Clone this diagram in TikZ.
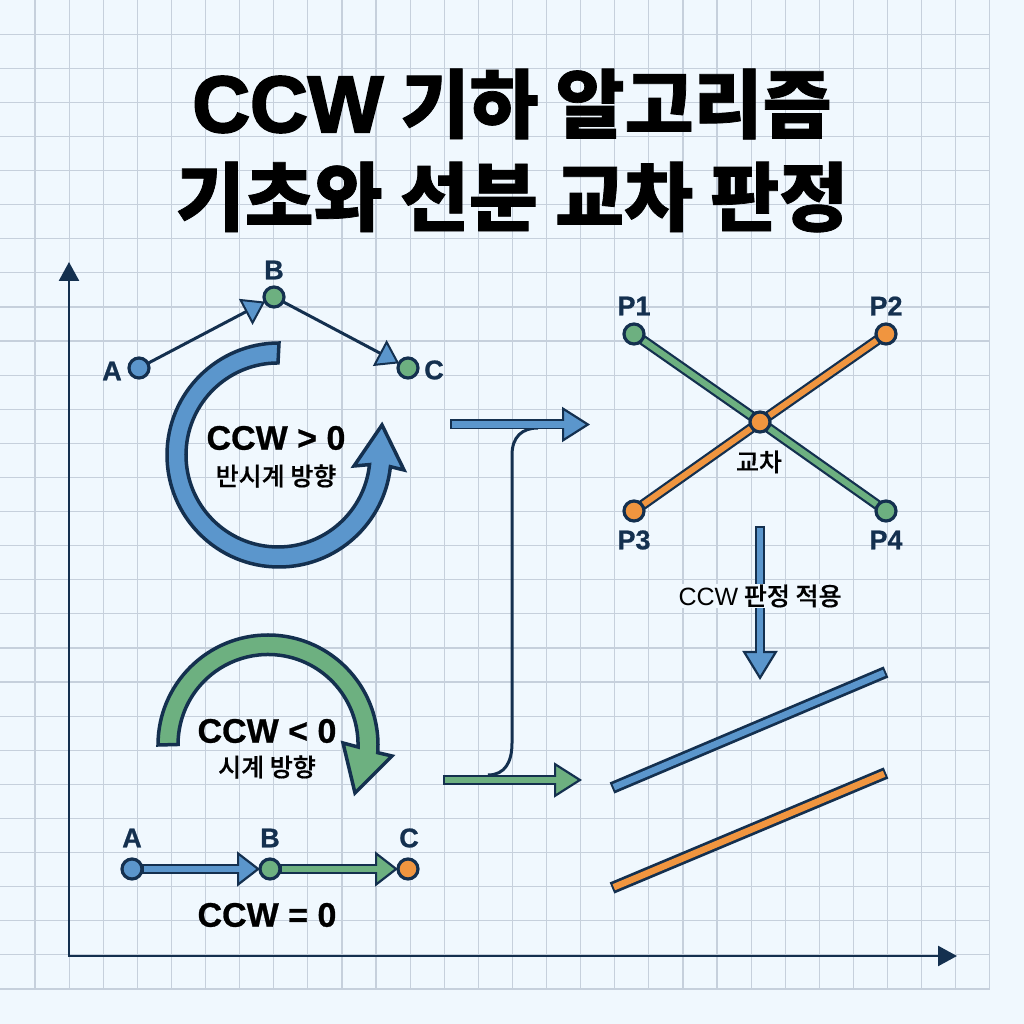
\documentclass[tikz,border=0pt]{standalone}
\usepackage{fontspec}
\usetikzlibrary{arrows.meta}
\setmainfont[FakeBold = 0.5]{Noto Sans CJK KR Medium}
\newfontfamily\titlekr[FakeBold = 1]{Noto Sans CJK KR Black}
\newfontfamily\latinsans[BoldFeatures = {FakeBold = 0.8}]{Liberation Sans}
\newfontfamily\titlelatin[BoldFeatures = {FakeBold = 2.5}]{Liberation Sans}
\definecolor{paper}{HTML}{F0F8FE}
\definecolor{gridline}{HTML}{C6D0DC}
\definecolor{ink}{HTML}{14304F}
\definecolor{bluefill}{HTML}{5B96CC}
\definecolor{greenfill}{HTML}{6DB080}
\definecolor{orangefill}{HTML}{F0953F}
\tikzset{
    dot/.style = {circle, draw = ink, line width = 3.2pt, fill = #1, minimum size = 20pt, inner sep = 0pt, outer sep = 0pt},
    letter/.style = {text = ink, font = \latinsans\bfseries\fontsize{27}{27}\selectfont, inner sep = 0pt},
    bigtext/.style = {text = black, font = \latinsans\bfseries\fontsize{34}{34}\selectfont, inner sep = 0pt},
    smalltext/.style = {text = black, font = \fontsize{25}{25}\selectfont, inner sep = 1pt},
    titletext/.style = {text = black, font = \titlekr\fontsize{75}{75}\selectfont, inner sep = 0pt},
    thinarrow/.style = {ink, line width = 3pt, -{Triangle[length = 22pt, width = 29pt, line width = 2pt, fill = bluefill]}},
    fatarrow/.style 2 args = {ink, line width = 10pt, -{Triangle[length = #2, width = 35pt, line width = 2.2pt, fill = #1]},
        postaction = {draw = #1, line width = 6.5pt, -{}, shorten > = #2 - 3pt, shorten < = 2pt}},
    segment/.style = {ink, line width = 10.5pt, postaction = {draw = #1, line width = 6pt, shorten > = 1.5pt, shorten < = 1.5pt}},
    bar/.style = {ink, line width = 12pt, postaction = {draw = #1, line width = 6.5pt, shorten > = 2pt, shorten < = 2pt}},
    ringarrow/.style = {draw = ink, line width = 3.5pt, line join = miter, fill = #1},
}
\begin{document}
\begin{tikzpicture}[x = 1pt, y = 1pt]
    \useasboundingbox (0, 0) rectangle (1024, 1024);
    \fill[paper] (0, 0) rectangle (1024, 1024);

    % grid
    \foreach \i in {0, ..., 28} {
        \draw[gridline, line width = 1.2pt] ({35 + 34.1 * \i}, 35) -- ++ (0, 989);
        \draw[gridline, line width = 1.2pt] (0, {35 + 34.1 * \i}) -- ++ (990, 0);
    }

    % axes
    \coordinate (origin) at (69, 68);
    \coordinate (xend) at (957, 68);
    \coordinate (yend) at (69, 762);
    \draw[ink, line width = 2.5pt, line cap = rect, -{Triangle[length = 19pt, width = 20pt]}] (origin) -- (xend);
    \draw[ink, line width = 2.5pt, line cap = rect, -{Triangle[length = 19pt, width = 20pt]}] (origin) -- (yend);

    % title
    \node[titletext] (titlea) at (512, 920) {{\titlelatin\bfseries\fontsize{80}{80}\selectfont CCW} 기하 알고리즘};
    \node[titletext] (titleb) at (512, 827) {기초와 선분 교차 판정};

    % ccw > 0
    \node[dot = bluefill] (a1) at (139, 656) {};
    \node[dot = greenfill] (b1) at (274, 727) {};
    \node[dot = greenfill] (c1) at (408, 656) {};
    \node[letter] (a1label) at (112, 653) {A};
    \node[letter] (b1label) at (274, 754) {B};
    \node[letter] (c1label) at (434, 654) {C};
    \draw[thinarrow] (a1) -- (b1);
    \draw[thinarrow] (b1) -- (c1);
    \draw[ringarrow = bluefill] (279, 681) arc (90:354:112) -- (404, 554) -- (382, 599) -- (354, 558) -- (369.5, 559.4) arc (354:90:92) -- cycle;
    \node[bigtext] (pos) at (276, 586) {CCW > 0};
    \node[smalltext] (posnote) at (276, 548) {반시계 방향};

    % ccw < 0
    \draw[ringarrow = greenfill] (158, 279) arc (180:-4:110) -- (392, 268) -- (355, 231) -- (343, 281) -- (358, 277) arc (-1.6:180:90) -- cycle;
    \node[bigtext] (neg) at (267, 293) {CCW < 0};
    \node[smalltext] (negnote) at (267, 257) {시계 방향};

    % ccw = 0
    \node[dot = bluefill] (a2) at (132, 155) {};
    \node[dot = greenfill] (b2) at (270, 155) {};
    \node[dot = orangefill] (c2) at (408, 155) {};
    \node[letter] (a2label) at (132, 186) {A};
    \node[letter] (b2label) at (270, 186) {B};
    \node[letter] (c2label) at (409, 186) {C};
    \draw[fatarrow = {bluefill}{23pt}] (a2) -- (b2);
    \draw[fatarrow = {greenfill}{23pt}] (b2) -- (c2);
    \node[bigtext] (zero) at (267, 109) {CCW = 0};

    % bracket between the two arrows
    \coordinate (jointop) at (538, 596);
    \coordinate (joinbot) at (488, 249);
    \draw[ink, line width = 3pt] (jointop) .. controls (522, 596) and (512, 587) .. (512, 569) -- (512, 281) .. controls (512, 262) and (505, 249) .. (joinbot);
    \coordinate (flowa) at (450, 599.5);
    \coordinate (flowb) at (590, 599.5);
    \coordinate (flowc) at (443, 244);
    \coordinate (flowd) at (582, 244);
    \draw[fatarrow = {bluefill}{28pt}] (flowa) -- (flowb);
    \draw[fatarrow = {greenfill}{28pt}] (flowc) -- (flowd);

    % crossing
    \node[dot = greenfill] (p1) at (634, 690) {};
    \node[dot = orangefill] (p2) at (886, 690) {};
    \node[dot = orangefill] (p3) at (634, 513) {};
    \node[dot = greenfill] (p4) at (886, 513) {};
    \node[dot = orangefill] (cross) at (760, 602) {};
    \draw[segment = greenfill] (p1) -- (cross);
    \draw[segment = greenfill] (cross) -- (p4);
    \draw[segment = orangefill] (p3) -- (cross);
    \draw[segment = orangefill] (cross) -- (p2);
    \node[letter] (p1label) at (634, 718) {P1};
    \node[letter] (p2label) at (886, 718) {P2};
    \node[letter] (p3label) at (634, 484) {P3};
    \node[letter] (p4label) at (886, 484) {P4};
    \node[smalltext] (crossnote) at (759, 562) {교차};

    % apply
    \coordinate (applya) at (760, 498);
    \coordinate (applyb) at (760, 344);
    \draw[fatarrow = {bluefill}{29pt}] (applya) -- (applyb);
    \node[smalltext, fill = paper] (applynote) at (760, 428) {{\latinsans CCW} 판정 적용};

    % parallel
    \coordinate (sa) at (612, 236);
    \coordinate (sb) at (886, 352);
    \coordinate (sc) at (612, 136);
    \coordinate (sd) at (886, 251);
    \draw[bar = bluefill] (sa) -- (sb);
    \draw[bar = orangefill] (sc) -- (sd);
\end{tikzpicture}
\end{document}
